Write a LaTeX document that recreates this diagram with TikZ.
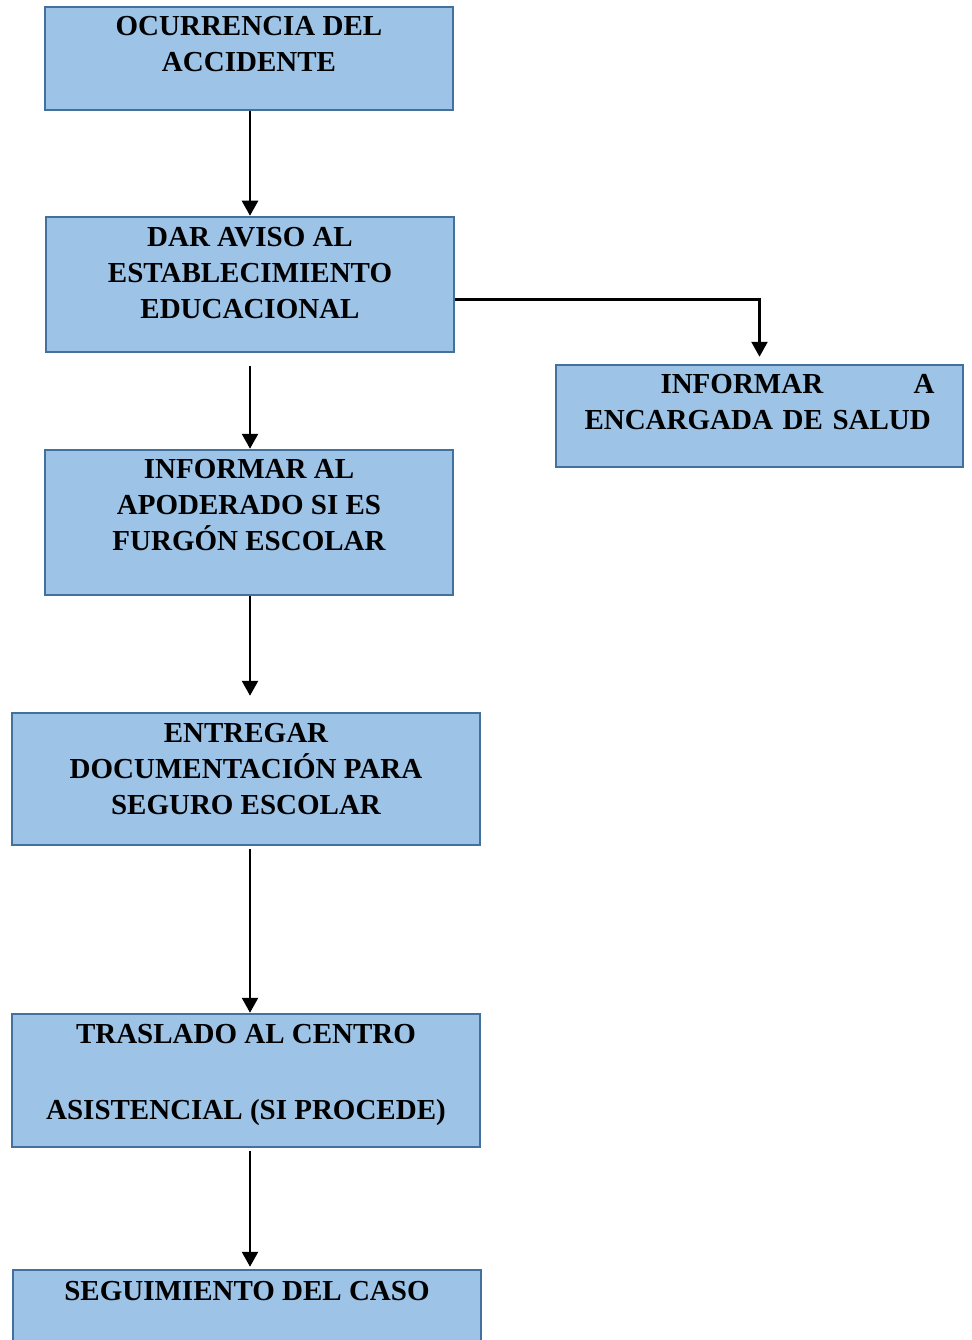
\documentclass[tikz,border=0pt]{standalone}
\usepackage{fontspec}
\setmainfont{Liberation Serif}
\usetikzlibrary{calc,positioning,arrows.meta,fit}
\definecolor{boxfill}{RGB}{157,195,230}
\definecolor{boxline}{RGB}{65,113,156}
\makeatletter
\tikzset{
  fitting node/.style={
    inner sep=0pt,
    fill=none,
    draw=none,
    reset transform,
    fit={(\pgf@pathminx,\pgf@pathminy) (\pgf@pathmaxx,\pgf@pathmaxy)}
  },
  reset transform/.code={\pgftransformreset},
  stepbox/.style={fill=boxfill,draw=boxline,line width=2.5pt},
  steptext/.style={anchor=north,inner sep=0pt,align=center,font=\bfseries\fontsize{29}{36}\selectfont},
  flow/.style={line width=2.5pt,-{Triangle[length=15pt,width=16pt]}}
}
\makeatother

\begin{document}
\begin{tikzpicture}[x=1pt,y=-1pt]
  \useasboundingbox (0,0) rectangle (971,1340);

  % boxes
  \draw[stepbox] (45,7) rectangle (453,110) node[fitting node] (ocurrencia) {};
  \draw[stepbox] (46,217) rectangle (454,352) node[fitting node] (aviso) {};
  \draw[stepbox] (556,365) rectangle (963,467) node[fitting node] (salud) {};
  \draw[stepbox] (45,450) rectangle (453,595) node[fitting node] (apoderado) {};
  \draw[stepbox] (12,713) rectangle (480,845) node[fitting node] (seguro) {};
  \draw[stepbox] (12,1014) rectangle (480,1147) node[fitting node] (traslado) {};
  \draw[stepbox] (13,1270) rectangle (481,1350) node[fitting node] (seguimiento) {};

  % texts
  \node[steptext] at($(ocurrencia.north)+(0,10)$) (ocurrencia_label) {OCURRENCIA DEL\\ACCIDENTE};
  \node[steptext] at($(aviso.north)+(0,11)$) (aviso_label) {DAR AVISO AL\\ESTABLECIMIENTO\\EDUCACIONAL};
  \node[steptext,align=left,text width=350pt] at($(salud.north)+(0,10)$) (salud_label) {\hspace*{76pt}INFORMAR\hfill A\\\mbox{ENCARGADA DE SALUD}};
  \node[steptext] at($(apoderado.north)+(0,10)$) (apoderado_label) {INFORMAR AL\\APODERADO SI ES\\FURGÓN ESCOLAR};
  \node[steptext] at($(seguro.north)+(0,11)$) (seguro_label) {ENTREGAR\\DOCUMENTACIÓN PARA\\SEGURO ESCOLAR};
  \node[steptext] at($(traslado.north)+(0,11)$) (traslado_label) {TRASLADO AL CENTRO\\[40pt]ASISTENCIAL (SI PROCEDE)};
  \node[steptext] at($(seguimiento.north)+(0,12)$) (seguimiento_label) {SEGUIMIENTO DEL CASO};

  % connectors
  \coordinate (spine) at (250,0);
  \draw[flow] (spine |- ocurrencia.south) -- (spine |- aviso.north);
  \draw[flow,shorten <=13pt] (spine |- aviso.south) -- (spine |- apoderado.north);
  \draw[flow,shorten >=16pt] (spine |- apoderado.south) -- (spine |- seguro.north);
  \draw[flow,shorten <=3pt] (spine |- seguro.south) -- (spine |- traslado.north);
  \draw[flow,shorten <=3pt,shorten >=2pt] (spine |- traslado.south) -- (spine |- seguimiento.north);
  \draw[flow,shorten >=7pt] ($(aviso.east)+(0,15)$) -| (salud.north);
\end{tikzpicture}
\end{document}
